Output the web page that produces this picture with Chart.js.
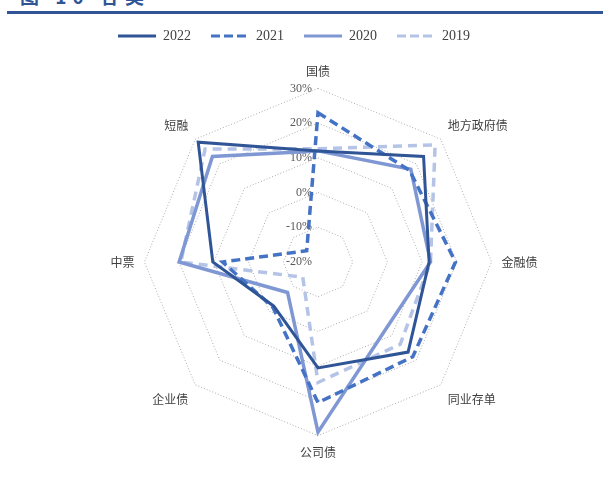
<!DOCTYPE html>
<html>
<head>
<meta charset="utf-8">
<script src="https://cdn.jsdelivr.net/npm/chart.js@4/dist/chart.umd.min.js"></script>
<style>
  body { margin: 0; background: #fff; }
  #wrap { position: relative; width: 603px; height: 477px; overflow: hidden; }
  #rule { position: absolute; left: 7px; top: 11px; width: 596px; height: 3px; background: #2F5597; }
  #title { position: absolute; left: 20px; top: -18px; font: bold 19px "Noto Sans CJK SC"; color: #2F5597; letter-spacing: 6px; }
  canvas { position: absolute; left: 0; top: 0; }
</style>
</head>
<body>
<div id="wrap">
  <div id="title">图 10 各类</div>
  <div id="rule"></div>
  <canvas id="myChart" width="603" height="477"></canvas>
</div>
<script>
const categories = ['国债', '地方政府债', '金融债', '同业存单', '公司债', '企业债', '中票', '短融'];
const years = ['2022', '2021', '2020', '2019'];
const values2022 = [12, 23, 12, 16.7, 10.5, -2, 10.3, 28.8];
const values2021 = [23, 17.3, 19.6, 18.6, 20.5, -1.6, 7.5, -15.4];
const values2020 = [12, 17.8, 12.4, 7.5, 29, -7.6, 20, 23];
const values2019 = [12.6, 27.7, 12.4, 13.5, 14.7, -13.8, 19.5, 26];
const tickLabels = ['-20%', '-10%', '0%', '10%', '20%', '30%'];

// tick labels sit left of the vertical axis, like the excel original
const tickLabelPlugin = {
    id: 'tickLabels',
    beforeDatasetsDraw(chart) {
        const s = chart.scales.r;
        const ctx = chart.ctx;
        ctx.save();
        ctx.font = '12px "Liberation Serif"';
        ctx.fillStyle = '#595959';
        ctx.textAlign = 'right';
        ctx.textBaseline = 'middle';
        s.ticks.forEach((t, i) => {
            const d = s.getDistanceFromCenterForValue(t.value);
            ctx.fillText(tickLabels[i], s.xCenter - 6, s.yCenter - d);
        });
        ctx.restore();
    }
};

// legend is not centred on the radar in the original
const legendShift = {
    id: 'legendShift',
    afterLayout(chart) {
        const l = chart.legend;
        l.left -= 24; l.right -= 24;
        l.top -= 11; l.bottom -= 11;
    }
};

const series = [
    { data: values2022, color: '#2F5597', width: 3, dash: [] },
    { data: values2021, color: '#4472C4', width: 3.5, dash: [9, 5] },
    { data: values2020, color: '#7F98D4', width: 3.5, dash: [] },
    { data: values2019, color: '#B4C3E6', width: 3.5, dash: [9, 6] }
];

// legend samples: chart.js ignores dashes for point styles, so draw a small line image
function lineSample(s) {
    const c = document.createElement('canvas');
    c.width = 38; c.height = 6;
    const g = c.getContext('2d');
    g.strokeStyle = s.color;
    g.lineWidth = 3;
    g.setLineDash(s.dash.length ? [9, 4] : []);
    g.beginPath();
    g.moveTo(0, 3); g.lineTo(38, 3);
    g.stroke();
    return c;
}

new Chart(document.getElementById('myChart'), {
    type: 'radar',
    data: {
        labels: categories,
        datasets: series.map((s, i) => ({
            label: years[i],
            data: s.data,
            borderColor: s.color,
            backgroundColor: s.color,
            borderWidth: s.width,
            borderDash: s.dash,
            borderJoinStyle: 'miter',
            fill: false,
            tension: 0,
            pointRadius: 0,
            pointHoverRadius: 0,
            pointStyle: lineSample(s)
        }))
    },
    options: {
        responsive: false,
        animation: false,
        layout: { padding: { top: 20, left: 33, right: 0, bottom: 17 } },
        scales: {
            r: {
                min: -20,
                max: 30,
                ticks: { display: false, stepSize: 10 },
                angleLines: { display: false },
                grid: { color: '#ABABAB', lineWidth: 1 },
                border: { dash: [1, 2] },
                pointLabels: {
                    padding: 10,
                    color: '#404040',
                    font: { family: '"Noto Sans CJK SC"', size: 12 }
                }
            }
        },
        plugins: {
            legend: {
                position: 'top',
                labels: {
                    usePointStyle: true,
                    pointStyleWidth: 38,
                    padding: 20,
                    color: '#404040',
                    font: { family: '"Liberation Serif"', size: 14 }
                }
            },
            tooltip: { enabled: false }
        }
    },
    plugins: [tickLabelPlugin, legendShift]
});
</script>
</body>
</html>
